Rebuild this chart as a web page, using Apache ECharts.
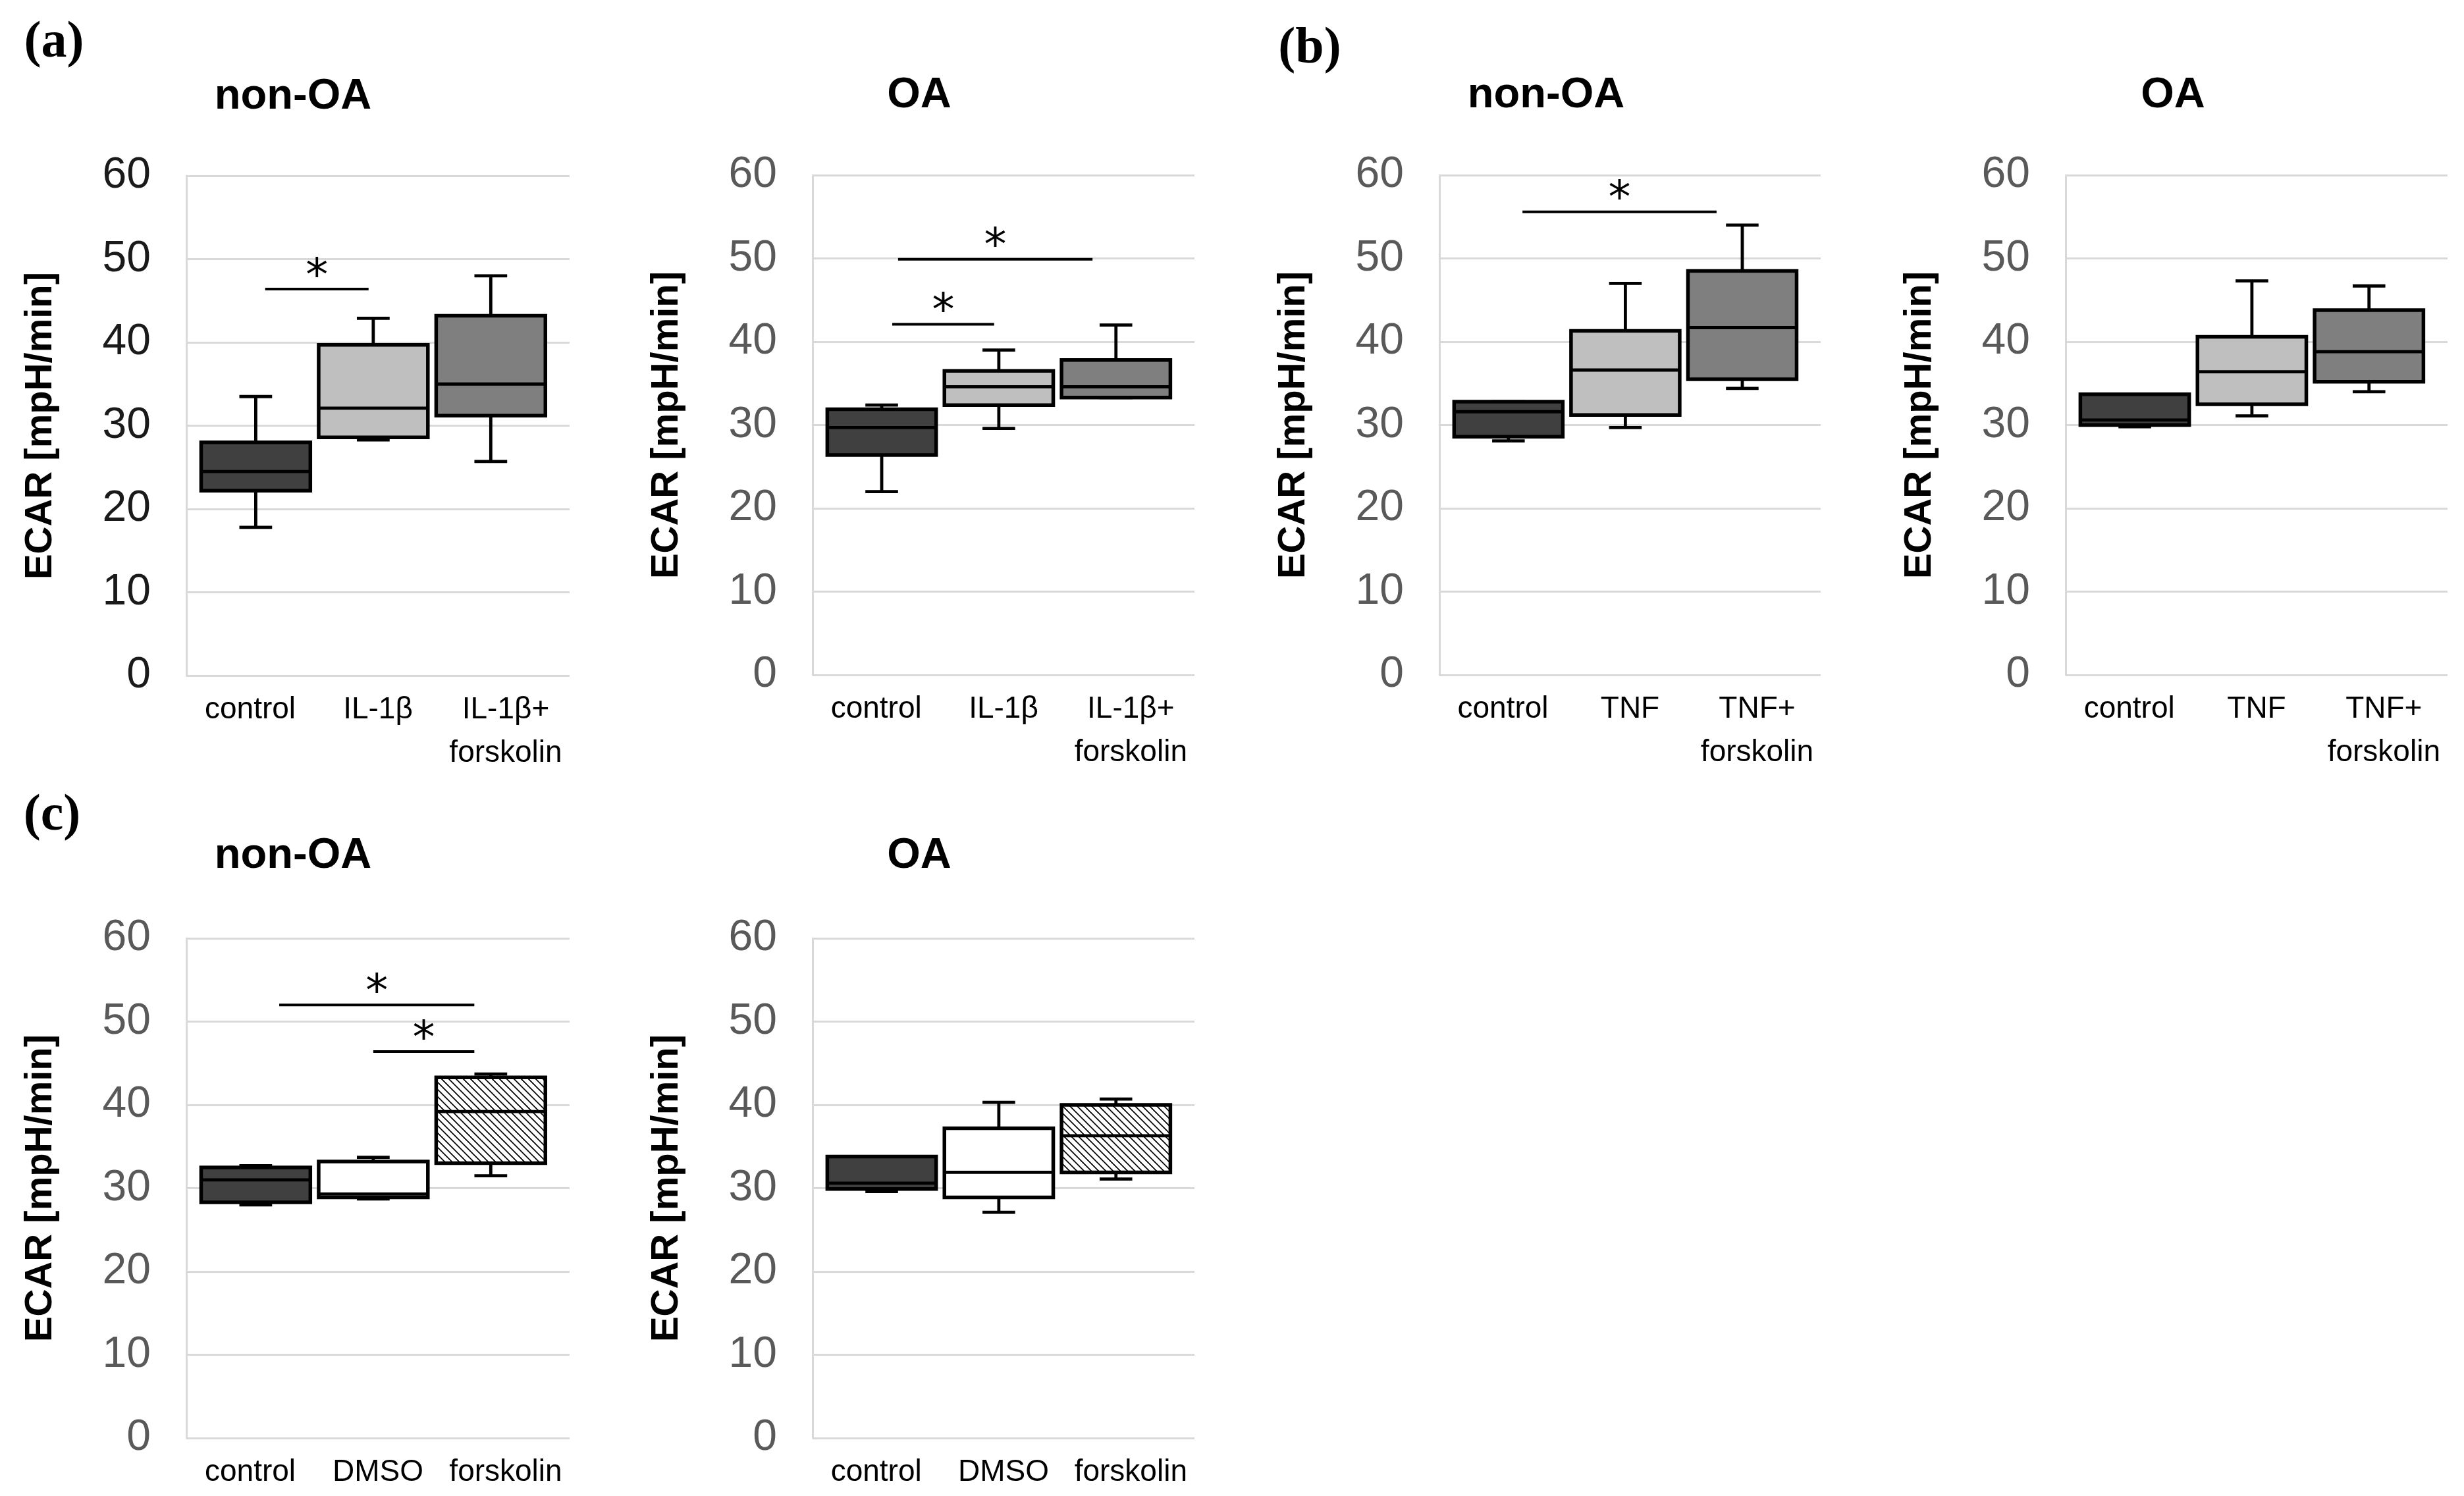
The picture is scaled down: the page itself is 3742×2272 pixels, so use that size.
<!DOCTYPE html>
<html><head><meta charset="utf-8">
<script src="https://cdn.jsdelivr.net/npm/echarts@6/dist/echarts.min.js"></script>
<style>html,body{margin:0;padding:0;background:#fff}#c{width:3742px;height:2272px}</style>
</head><body><div id="c"></div>
<script>
// ---------- data ----------
const yTicks = [0, 10, 20, 30, 40, 50, 60];
const catsA = ['control', 'IL-1β', 'IL-1β+\nforskolin'];
const catsB = ['control', 'TNF', 'TNF+\nforskolin'];
const catsC = ['control', 'DMSO', 'forskolin'];
// each box: [min, Q1, median, Q3, max]
const aNonOA = [[17.8, 22.2, 24.5, 28.0, 33.5], [28.3, 28.6, 32.1, 39.7, 42.9], [25.7, 31.2, 35.0, 43.2, 48.0]];
const aOA    = [[22.0, 26.4, 29.7, 31.9, 32.4], [29.6, 32.4, 34.6, 36.5, 39.0], [33.3, 33.3, 34.6, 37.8, 42.0]];
const bNonOA = [[28.1, 28.6, 31.6, 32.8, 32.8], [29.7, 31.2, 36.6, 41.3, 47.0], [34.4, 35.5, 41.7, 48.5, 54.0]];
const bOA    = [[29.8, 30.0, 30.6, 33.7, 33.7], [31.1, 32.5, 36.4, 40.6, 47.3], [34.0, 35.2, 38.8, 43.8, 46.7]];
const cNonOA = [[28.0, 28.3, 31.0, 32.5, 32.7], [28.7, 28.9, 29.3, 33.2, 33.7], [31.5, 33.0, 39.2, 43.3, 43.7]];
const cOA    = [[29.6, 29.9, 30.6, 33.8, 33.8], [27.1, 28.9, 31.9, 37.2, 40.3], [31.1, 31.9, 36.3, 40.0, 40.7]];
// significance bars: [from (category position), to (category position), y value]
const sigANonOA = [[0.08, 0.96, 46.4]];
const sigAOA    = [[0.09, 0.96, 42.1], [0.14, 1.80, 49.9]];
const sigBNonOA = [[0.12, 1.78, 55.6]];
const sigBOA    = [];
const sigCNonOA = [[0.20, 1.86, 52.0], [1.00, 1.86, 46.4]];
const sigCOA    = [];
const yName = 'ECAR [mpH/min]';

// ---------- styles / layout ----------
const FONT = 'Liberation Sans';
const SPACING = 0.92, OFFSET = -0.04, BOXW = 0.855, CAPW = 0.3;
function makeHatch() {
  const s = 11, c = document.createElement('canvas');
  c.width = s; c.height = s;
  const g = c.getContext('2d');
  g.fillStyle = '#ffffff'; g.fillRect(0, 0, s, s);
  g.strokeStyle = '#000'; g.lineWidth = 1.7;
  g.beginPath();
  g.moveTo(-1, -1); g.lineTo(s + 1, s + 1);
  g.moveTo(-1, s - 1); g.lineTo(1, s + 1);
  g.moveTo(s - 1, -1); g.lineTo(s + 1, 1);
  g.stroke();
  return c;
}
const hatch = { image: makeHatch(), repeat: 'repeat' };
const fillsAB = ['#404040', '#bfbfbf', '#7f7f7f'];
const fillsC = ['#404040', '#ffffff', hatch];

const panels = [
  { cats: catsA, box: aNonOA, sig: sigANonOA, fills: fillsAB, lab: '#1a1a1a', grid: { left: 283, top: 267, width: 582, height: 759 }, title: 'non-OA', tx: 445, ty: 147 },
  { cats: catsA, box: aOA,    sig: sigAOA,    fills: fillsAB, lab: '#595959', grid: { left: 1234, top: 266, width: 580, height: 759 }, title: 'OA', tx: 1396, ty: 145 },
  { cats: catsB, box: bNonOA, sig: sigBNonOA, fills: fillsAB, lab: '#595959', grid: { left: 2186, top: 266, width: 579, height: 759 }, title: 'non-OA', tx: 2348, ty: 145 },
  { cats: catsB, box: bOA,    sig: sigBOA,    fills: fillsAB, lab: '#595959', grid: { left: 3137, top: 266, width: 580, height: 759 }, title: 'OA', tx: 3300, ty: 145 },
  { cats: catsC, box: cNonOA, sig: sigCNonOA, fills: fillsC,  lab: '#595959', grid: { left: 283, top: 1425, width: 582, height: 759 }, title: 'non-OA', tx: 445, ty: 1300 },
  { cats: catsC, box: cOA,    sig: sigCOA,    fills: fillsC,  lab: '#595959', grid: { left: 1234, top: 1425, width: 580, height: 759 }, title: 'OA', tx: 1396, ty: 1300 }
];
const letters = [['(a)', 82, 66], ['(b)', 1989, 75], ['(c)', 79, 1240]];

function centerX(api, pos) {
  const band = api.size([1, 0])[0];
  const mid = api.coord([1, 0])[0];
  return mid + (pos - 1 + OFFSET) * SPACING * band;
}
function boxRender(fills) {
  return function (params, api) {
    const i = api.value(0);
    const band = api.size([1, 0])[0];
    const cx = centerX(api, i);
    const w = BOXW * band, cw = CAPW * w;
    const y = k => api.coord([i, api.value(k)])[1];
    const yMin = y(1), yQ1 = y(2), yMed = y(3), yQ3 = y(4), yMax = y(5);
    const ls = { stroke: '#000', lineWidth: 4.8 };
    return { type: 'group', children: [
      { type: 'line', shape: { x1: cx, y1: yQ3, x2: cx, y2: yMax }, style: ls },
      { type: 'line', shape: { x1: cx, y1: yMin, x2: cx, y2: yQ1 }, style: ls },
      { type: 'line', shape: { x1: cx - cw / 2, y1: yMax, x2: cx + cw / 2, y2: yMax }, style: ls },
      { type: 'line', shape: { x1: cx - cw / 2, y1: yMin, x2: cx + cw / 2, y2: yMin }, style: ls },
      { type: 'rect', shape: { x: cx - w / 2, y: yQ3, width: w, height: yQ1 - yQ3 }, style: { fill: fills[i], stroke: '#000', lineWidth: 5.5 } },
      { type: 'line', shape: { x1: cx - w / 2, y1: yMed, x2: cx + w / 2, y2: yMed }, style: ls }
    ] };
  };
}
function sigRender(params, api) {
  const x1 = centerX(api, api.value(1));
  const x2 = centerX(api, api.value(2));
  const yy = api.coord([1, api.value(3)])[1];
  return { type: 'group', children: [
    { type: 'line', shape: { x1: x1, y1: yy, x2: x2, y2: yy }, style: { stroke: '#000', lineWidth: 4 } },
    { type: 'text', x: (x1 + x2) / 2, y: yy - 17, style: { text: '*', fontSize: 68, fontFamily: 'DejaVu Sans', fill: '#000', align: 'center', verticalAlign: 'middle' } }
  ] };
}

const option = { animation: false, backgroundColor: '#fff', grid: [], xAxis: [], yAxis: [], series: [], graphic: [] };
panels.forEach((p, k) => {
  option.grid.push(Object.assign({ containLabel: false }, p.grid));
  option.xAxis.push({
    type: 'category', gridIndex: k, data: p.cats,
    axisLine: { show: false }, axisTick: { show: false }, splitLine: { show: false },
    axisLabel: { fontSize: 46, fontFamily: FONT, color: '#000', lineHeight: 66, margin: 19, interval: 0 }
  });
  option.yAxis.push({
    type: 'value', gridIndex: k, min: yTicks[0], max: yTicks[yTicks.length - 1], interval: yTicks[1] - yTicks[0],
    axisLine: { show: true, lineStyle: { color: '#d9d9d9', width: 3 } }, axisTick: { show: false },
    splitLine: { show: true, lineStyle: { color: '#d9d9d9', width: 3 } },
    axisLabel: { fontSize: 66, fontFamily: FONT, color: p.lab, margin: 54 },
    name: yName, nameLocation: 'middle', nameGap: 192,
    nameTextStyle: { fontSize: 58, fontFamily: FONT, fontWeight: 'bold', color: '#000' }
  });
  option.series.push({
    type: 'custom', xAxisIndex: k, yAxisIndex: k, renderItem: boxRender(p.fills),
    encode: { x: 0, y: [1, 2, 3, 4, 5] },
    data: p.box.map((d, i) => [i].concat(d)), silent: true, clip: false
  });
  if (p.sig.length) {
    option.series.push({
      type: 'custom', xAxisIndex: k, yAxisIndex: k, renderItem: sigRender,
      encode: { x: 0, y: 3 },
      data: p.sig.map(s => [0].concat(s)), silent: true, clip: false, z: 5
    });
  }
  option.graphic.push({ type: 'text', x: p.tx, y: p.ty, style: { text: p.title, fontSize: 65, fontWeight: 'bold', fontFamily: FONT, fill: '#000', align: 'center', verticalAlign: 'middle' } });
});
letters.forEach(l => option.graphic.push({ type: 'text', x: l[1], y: l[2], style: { text: l[0], fontSize: 78, fontWeight: 'bold', fontFamily: 'Liberation Serif', fill: '#000', align: 'center', verticalAlign: 'middle' } }));

const chart = echarts.init(document.getElementById('c'), null, { renderer: 'canvas' });
chart.setOption(option);
</script></body></html>
